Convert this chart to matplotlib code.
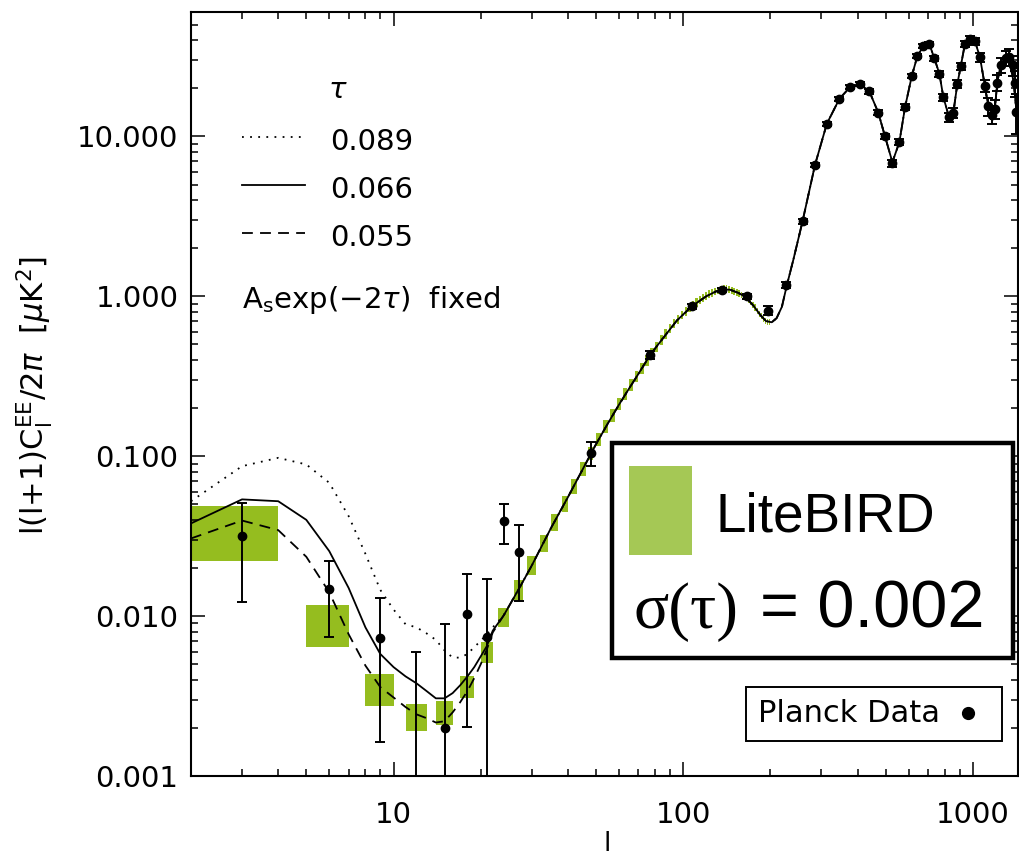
import matplotlib
matplotlib.use("Agg")
import matplotlib.pyplot as plt
from matplotlib.patches import Rectangle
from matplotlib.lines import Line2D
import numpy as np

plt.rcParams['font.family'] = ['DejaVu Sans']
plt.rcParams['mathtext.fontset'] = 'dejavusans'

# ---------------- data ----------------
# model curves, low multipoles (one per tau)
ell_low = [2, 3, 4, 5, 6, 7, 8, 9, 10, 11, 12, 13, 14, 15, 16, 17, 18, 19, 20, 21, 22]
cl_tau089_low = [0.0523, 0.0866, 0.0977, 0.0888, 0.0682, 0.0422, 0.0245, 0.0146, 0.0110, 0.0089,
                 0.0085, 0.0078, 0.0071, 0.0061, 0.0055, 0.0055, 0.0058, 0.0064, 0.0070, 0.0077, 0.0085]
cl_tau066_low = [0.038, 0.0537, 0.0523, 0.040, 0.0255, 0.0150, 0.0085, 0.0058, 0.0048, 0.0042,
                 0.0038, 0.0034, 0.00306, 0.00306, 0.0033, 0.0037, 0.0042, 0.0048, 0.0056, 0.0065, 0.0081]
cl_tau055_low = [0.0306, 0.0396, 0.0345, 0.0235, 0.0141, 0.0077, 0.0049, 0.0036, 0.0031, 0.0027,
                 0.00243, 0.0023, 0.00216, 0.0022, 0.0025, 0.0029, 0.0034, 0.0041, 0.0050, 0.0062, 0.0079]

# common model curve at higher multipoles
ell_high = [24, 26, 28, 30, 35, 40, 45, 50, 55, 60, 65, 70, 77, 85, 95, 107, 120, 130, 138, 145,
            155, 164, 175, 185, 193, 202, 210, 219, 228, 240, 258, 285, 313, 346, 377, 408, 439, 471,
            497, 527, 557, 583, 615, 643, 674, 707, 735, 766, 790, 827, 855, 883, 907, 938, 977, 1016,
            1057, 1099, 1129, 1160, 1190, 1212, 1246, 1300, 1340, 1380, 1410, 1440]
cl_high = [0.0101, 0.0130, 0.0165, 0.0207, 0.0357, 0.0555, 0.083, 0.119, 0.161, 0.210, 0.265, 0.327,
           0.432, 0.545, 0.705, 0.866, 1.00, 1.075, 1.105, 1.10, 1.05, 0.99, 0.87, 0.76, 0.70, 0.688,
           0.73, 0.86, 1.18, 1.70, 2.94, 6.65, 12.0, 17.2, 20.4, 21.3, 19.1, 14.1, 10.0, 6.9, 9.2,
           15.3, 23.9, 31.9, 36.6, 37.8, 30.9, 24.6, 17.6, 13.2, 14.0, 21.3, 27.4, 37.9, 40.6, 39.3,
           31.3, 20.7, 15.4, 14.3, 14.8, 21.6, 28.1, 30.9, 29.0, 22.0, 15.0, 11.0]

# Planck data, low multipoles (asymmetric ranges)
pl_low_ell = [3, 6, 9, 12, 15, 18, 21, 24, 27]
pl_low_val = [0.0315, 0.0147, 0.00726, 0.0008, 0.00199, 0.01026, 0.00743, 0.0392, 0.025]
pl_low_top = [0.0513, 0.0221, 0.0129, 0.0060, 0.00888, 0.0183, 0.0171, 0.0506, 0.0374]
pl_low_bot = [0.0123, 0.00745, 0.00164, 0.0001, 0.0001, 0.00203, 0.0001, 0.0282, 0.0125]

# Planck data, higher multipoles (symmetric errors)
pl_ell = [48, 77, 107, 136, 166, 196, 226, 258, 285, 313, 346, 377, 408, 439, 471, 497, 527,
          557, 583, 615, 643, 674, 707, 735, 766, 790, 827, 855, 883, 907, 938, 977, 1016, 1057,
          1099, 1129, 1160, 1190, 1212, 1246, 1300, 1330, 1371, 1397, 1412]
pl_val = [0.1045, 0.432, 0.866, 1.10, 1.00, 0.814, 1.18, 2.94, 6.65, 12.0, 17.2, 20.4, 21.3, 19.1,
          14.1, 10.0, 6.8, 9.2, 15.3, 23.9, 31.9, 36.6, 37.8, 30.9, 24.6, 17.6, 13.2, 14.0, 21.3,
          27.4, 37.9, 40.6, 39.3, 31.3, 20.7, 15.4, 13.7, 14.8, 21.6, 28.1, 30.9, 31.5, 28.0, 21.6, 14.3]
pl_err = [0.0175, 0.025, 0.03, 0.035, 0.035, 0.053, 0.05, 0.1, 0.2, 0.35, 0.5, 0.6, 0.6, 0.6, 0.5,
          0.4, 0.35, 0.4, 0.6, 0.8, 1.0, 1.1, 1.2, 1.1, 1.0, 0.9, 0.9, 1.0, 1.2, 1.4, 1.7, 1.9, 2.0,
          2.0, 1.8, 2.0, 1.8, 2.0, 2.5, 3.0, 3.5, 3.8, 4.0, 4.0, 4.0]

# LiteBIRD forecast bins (first multipole of each 3-wide bin), centre value, upper/centre ratio
lb_lo = list(range(2, 200, 3))
lb_center = [0.0328, 0.0087, 0.00346, 0.00232, 0.00247, 0.00359, 0.00595, 0.00976, 0.01455, 0.0207,
             0.0285, 0.0385, 0.0505, 0.065, 0.083, 0.104, 0.127, 0.153, 0.180, 0.211,
             0.244, 0.279, 0.316, 0.355, 0.396, 0.439, 0.485, 0.532, 0.580, 0.628,
             0.675, 0.720, 0.764, 0.806, 0.846, 0.882, 0.915, 0.946, 0.975, 1.00,
             1.03, 1.05, 1.07, 1.09, 1.10, 1.11, 1.11, 1.10, 1.09, 1.07,
             1.06, 1.04, 1.02, 1.00, 0.98, 0.95, 0.92, 0.88, 0.85, 0.81,
             0.78, 0.75, 0.72, 0.70, 0.69, 0.69]
lb_ratio = [1.485, 1.356, 1.254, 1.22, 1.185, 1.173, 1.165, 1.148, 1.155, 1.14,
            1.13, 1.125, 1.12, 1.115, 1.11, 1.105, 1.10, 1.098, 1.095, 1.09,
            1.088, 1.085, 1.083, 1.08, 1.078, 1.076, 1.075, 1.073, 1.072, 1.07,
            1.068, 1.067, 1.066, 1.065, 1.064, 1.063, 1.062, 1.061, 1.06, 1.059,
            1.058, 1.057, 1.056, 1.055, 1.055, 1.054, 1.053, 1.052, 1.052, 1.051,
            1.05, 1.05, 1.049, 1.049, 1.048, 1.048, 1.047, 1.047, 1.046, 1.046,
            1.045, 1.045, 1.045, 1.044, 1.044, 1.044]

tau_labels = ['0.089', '0.066', '0.055']
x_ticks = [10, 100, 1000]
x_ticklabels = ['10', '100', '1000']
y_ticks = [0.001, 0.01, 0.1, 1, 10]
y_ticklabels = ['0.001', '0.010', '0.100', '1.000', '10.000']

# ---------------- figure ----------------
W, H = 1019, 859
fig = plt.figure(figsize=(W / 100, H / 100), dpi=100)


def fx(px):
    return px / W


def fy(py):
    return 1 - py / H


ax = fig.add_axes([fx(191), fy(776), fx(1018) - fx(191), fy(12) - fy(776)])
ax.set_xscale('log')
ax.set_yscale('log')
ax.set_xlim(2, 1430)
ax.set_ylim(0.001, 60)

green_box = '#95bd1f'
green_leg = '#a5c855'

# LiteBIRD boxes
lb_c = np.array(lb_center)
lb_r = np.array(lb_ratio)
bot = lb_c / lb_r
top = lb_c * lb_r
ax.bar(lb_lo, top - bot, width=2, bottom=bot, align='edge', color=green_box,
       linewidth=0, zorder=1)

# model curves
lw = 1.3
ax.plot(ell_low + ell_high, cl_tau089_low + cl_high, color='black', lw=lw,
        linestyle=(0, (1, 3.5)), zorder=3)
ax.plot(ell_low + ell_high, cl_tau066_low + cl_high, color='black', lw=lw, zorder=3)
ax.plot(ell_low + ell_high, cl_tau055_low + cl_high, color='black', lw=lw,
        linestyle=(0, (6, 4)), zorder=3)

# Planck data
lv = np.array(pl_low_val)
yerr_low = [lv - np.array(pl_low_bot), np.array(pl_low_top) - lv]
ax.errorbar(pl_low_ell, pl_low_val, yerr=yerr_low, fmt='o', color='black', ms=6,
            elinewidth=1.4, capsize=3.5, capthick=1.4, zorder=5)
ax.errorbar(pl_ell, pl_val, yerr=pl_err, fmt='o', color='black', ms=6,
            elinewidth=1.4, capsize=3.5, capthick=1.4, zorder=5)

# axes styling
for s in ax.spines.values():
    s.set_linewidth(1.5)
ax.tick_params(which='both', direction='in', top=True, right=True, width=1.1)
ax.tick_params(which='major', length=10)
ax.tick_params(which='minor', length=5)
ax.tick_params(axis='x', which='major', pad=18, labelsize=21)
ax.tick_params(axis='y', which='major', pad=9, labelsize=21)
ax.set_xticks(x_ticks)
ax.set_xticklabels(x_ticklabels)
ax.set_yticks(y_ticks)
ax.set_yticklabels(y_ticklabels)

# axis labels
fig.text(fx(607), fy(857), 'l', ha='center', va='bottom', fontsize=19)
fig.text(fx(35), fy(396), r'l(l+1)C$_{\rm l}^{\rm EE}$/2$\pi$  [$\mu$K$^2$]',
         rotation=90, ha='center', va='center', fontsize=22)

# tau legend (top-left)
fig.text(fx(338), fy(90), r'$\tau$', ha='center', va='center', fontsize=21)
leg_y = [137, 185, 233]
leg_styles = [(0, (1, 3.5)), '-', (0, (6, 4))]
for yy, st, lab in zip(leg_y, leg_styles, tau_labels):
    fig.add_artist(Line2D([fx(242), fx(305)], [fy(yy), fy(yy)], color='black', lw=lw,
                          linestyle=st, transform=fig.transFigure))
    fig.text(fx(330), fy(yy + 5), lab, ha='left', va='center', fontsize=21)
fig.text(fx(242), fy(300), r'A$_{\rm s}$exp($-$2$\tau$)  fixed', ha='left', va='center',
         fontsize=21)

# LiteBIRD legend box
fig.add_artist(Rectangle((fx(612), fy(658)), fx(1013) - fx(612), fy(443) - fy(658),
                         transform=fig.transFigure, facecolor='white', edgecolor='black',
                         linewidth=3.2, zorder=10))
fig.add_artist(Rectangle((fx(629), fy(555)), fx(692) - fx(629), fy(466) - fy(555),
                         transform=fig.transFigure, facecolor=green_leg, edgecolor='none',
                         zorder=11))
fig.text(fx(716), fy(532), 'LiteBIRD', ha='left', va='baseline', fontsize=39.5,
         family='Liberation Sans', zorder=12)
fig.text(fx(634), fy(628), 'σ(τ)', ha='left', va='baseline', fontsize=47,
         family='Liberation Serif', zorder=12)
fig.text(fx(760), fy(628), '= 0.002', ha='left', va='baseline', fontsize=48,
         family='Liberation Sans', zorder=12)

# Planck legend box
fig.add_artist(Rectangle((fx(746), fy(741)), fx(1002) - fx(746), fy(687) - fy(741),
                         transform=fig.transFigure, facecolor='white', edgecolor='black',
                         linewidth=1.4, zorder=10))
fig.text(fx(758), fy(714), 'Planck Data', ha='left', va='center', fontsize=22, zorder=12)
fig.add_artist(Line2D([fx(968)], [fy(713)], marker='o', color='black', ms=8.5,
                      transform=fig.transFigure, zorder=12))

fig.savefig('out.png', dpi=100)
